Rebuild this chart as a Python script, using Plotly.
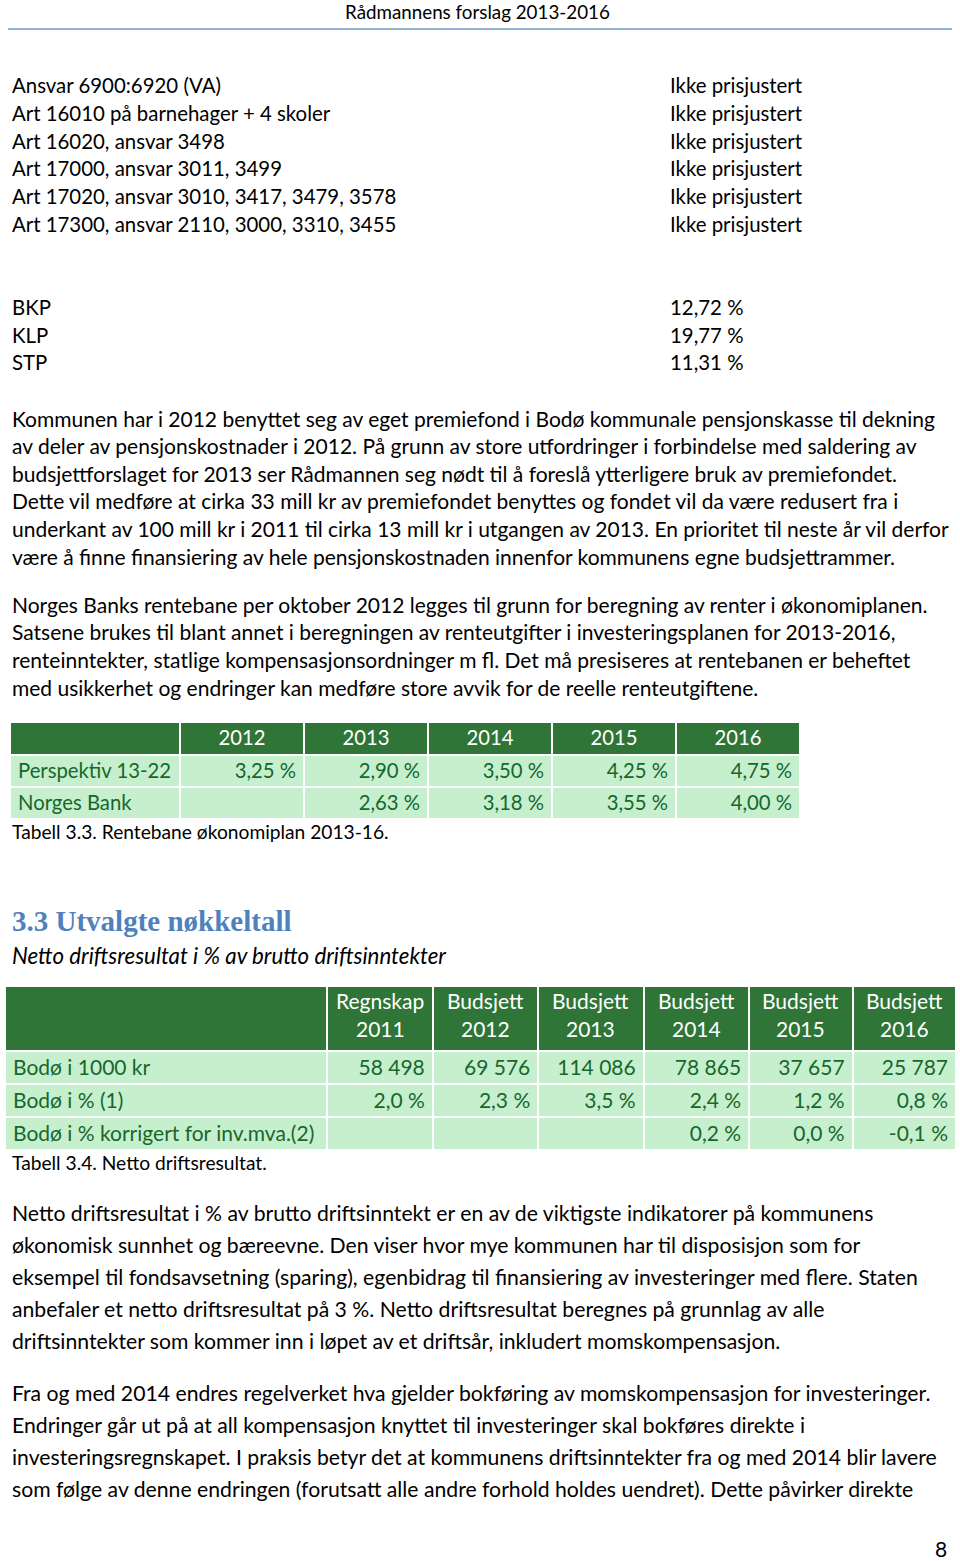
import plotly.graph_objects as go

W, H = 960, 1561
FONT = "Lato"
TXT = "#000000"

header_title = "Rådmannens forslag 2013-2016"

ansvar_labels = [
    "Ansvar 6900:6920 (VA)",
    "Art 16010 på barnehager + 4 skoler",
    "Art 16020, ansvar 3498",
    "Art 17000, ansvar 3011, 3499",
    "Art 17020, ansvar 3010, 3417, 3479, 3578",
    "Art 17300, ansvar 2110, 3000, 3310, 3455",
]
ansvar_values = ["Ikke prisjustert"] * 6

pension_labels = ["BKP", "KLP", "STP"]
pension_values = ["12,72 %", "19,77 %", "11,31 %"]

para1 = [
    "Kommunen har i 2012 benyttet seg av eget premiefond i Bodø kommunale pensjonskasse til dekning",
    "av deler av pensjonskostnader i 2012. På grunn av store utfordringer i forbindelse med saldering av",
    "budsjettforslaget for 2013 ser Rådmannen seg nødt til å foreslå ytterligere bruk av premiefondet.",
    "Dette vil medføre at cirka 33 mill kr av premiefondet benyttes og fondet vil da være redusert fra i",
    "underkant av 100 mill kr i 2011 til cirka 13 mill kr i utgangen av 2013. En prioritet til neste år vil derfor",
    "være å finne finansiering av hele pensjonskostnaden innenfor kommunens egne budsjettrammer.",
]
para2 = [
    "Norges Banks rentebane per oktober 2012 legges til grunn for beregning av renter i økonomiplanen.",
    "Satsene brukes til blant annet i beregningen av renteutgifter i investeringsplanen for 2013-2016,",
    "renteinntekter, statlige kompensasjonsordninger m fl. Det må presiseres at rentebanen er beheftet",
    "med usikkerhet og endringer kan medføre store avvik for de reelle renteutgiftene.",
]

# Table 3.3
t1_years = ["2012", "2013", "2014", "2015", "2016"]
t1_rows = ["Perspektiv 13-22", "Norges Bank"]
t1_perspektiv = ["3,25 %", "2,90 %", "3,50 %", "4,25 %", "4,75 %"]
t1_norgesbank = ["", "2,63 %", "3,18 %", "3,55 %", "4,00 %"]
t1_caption = "Tabell 3.3. Rentebane økonomiplan 2013-16."

heading = "3.3 Utvalgte nøkkeltall"
subheading = "Netto driftsresultat i % av brutto driftsinntekter"

# Table 3.4
t2_col_top = ["Regnskap", "Budsjett", "Budsjett", "Budsjett", "Budsjett", "Budsjett"]
t2_col_year = ["2011", "2012", "2013", "2014", "2015", "2016"]
t2_rows = ["Bodø i 1000 kr", "Bodø i % (1)", "Bodø i % korrigert for inv.mva.(2)"]
t2_kr = ["58 498", "69 576", "114 086", "78 865", "37 657", "25 787"]
t2_pct = ["2,0 %", "2,3 %", "3,5 %", "2,4 %", "1,2 %", "0,8 %"]
t2_pct_korr = ["", "", "", "0,2 %", "0,0 %", "-0,1 %"]
t2_caption = "Tabell 3.4. Netto driftsresultat."

para3 = [
    "Netto driftsresultat i % av brutto driftsinntekt er en av de viktigste indikatorer på kommunens",
    "økonomisk sunnhet og bæreevne. Den viser hvor mye kommunen har til disposisjon som for",
    "eksempel til fondsavsetning (sparing), egenbidrag til finansiering av investeringer med flere. Staten",
    "anbefaler et netto driftsresultat på 3 %. Netto driftsresultat beregnes på grunnlag av alle",
    "driftsinntekter som kommer inn i løpet av et driftsår, inkludert momskompensasjon.",
]
para4 = [
    "Fra og med 2014 endres regelverket hva gjelder bokføring av momskompensasjon for investeringer.",
    "Endringer går ut på at all kompensasjon knyttet til investeringer skal bokføres direkte i",
    "investeringsregnskapet. I praksis betyr det at kommunens driftsinntekter fra og med 2014 blir lavere",
    "som følge av denne endringen (forutsatt alle andre forhold holdes uendret). Dette påvirker direkte",
]
page_number = "8"


def px(x):
    return x / W


def py(y):
    return 1 - y / H


def nowrap(items):
    # non-breaking spaces keep the table from wrapping the cell text
    return [s.replace(" ", "\u00a0") for s in items]


annotations = []


def add_text(text, x, y, size=21, color=TXT, anchor="left", family=FONT):
    annotations.append(dict(
        text=text, x=px(x), y=py(y), xref="paper", yref="paper",
        xanchor=anchor, yanchor="middle", showarrow=False,
        font=dict(family=family, size=size, color=color)))


add_text(header_title, 612, 12, size=18.8, anchor="right")

for i, (lab, val) in enumerate(zip(ansvar_labels, ansvar_values)):
    y = 85 + i * 27.8
    add_text(lab, 10, y, size=20.4)
    add_text(val, 668, y, size=20.4)

for i, (lab, val) in enumerate(zip(pension_labels, pension_values)):
    y = 307 + i * 27.5
    add_text(lab, 10, y, size=20.4)
    add_text(val, 668, y, size=20.4)

for i, line in enumerate(para1):
    add_text(line, 10, 418 + i * 27.6, size=21)
for i, line in enumerate(para2):
    add_text(line, 10, 604 + i * 27.9, size=21)

add_text(t1_caption, 10, 832, size=19.2)
add_text("<b>" + heading + "</b>", 10, 921, size=29, color="#4f81bd", family="Liberation Serif")
add_text("<i>" + subheading + "</i>", 10, 955, size=22.3)
add_text(t2_caption, 10, 1162, size=19.2)

for i, line in enumerate(para3):
    add_text(line, 10, 1213 + i * 32, size=21.2)
for i, line in enumerate(para4):
    add_text(line, 10, 1393 + i * 32, size=21.2)

add_text(page_number, 941, 1548, size=21, anchor="center")

HDR_FILL = "#2e7537"
CELL_FILL = "#c6efce"
CELL_TXT = "#17672a"

fig = go.Figure()

# Table 3.3
fig.add_trace(go.Table(
    domain=dict(x=[px(10), px(800)], y=[py(822), py(722)]),
    columnwidth=[170] + [124] * 5,
    header=dict(
        values=[""] + t1_years,
        fill_color=HDR_FILL, line=dict(color="white", width=2),
        font=dict(family=FONT, size=20.3, color="white"),
        align="center", height=33,
    ),
    cells=dict(
        values=[nowrap(t1_rows)] + [nowrap([a, b]) for a, b in zip(t1_perspektiv, t1_norgesbank)],
        fill_color=CELL_FILL, line=dict(color="white", width=2),
        font=dict(family=FONT, size=20.3, color=CELL_TXT),
        align=["left"] + ["right"] * 5, height=32,
    ),
))

# Table 3.4 (header labels drawn as centred annotations over the header row)
t2_x0, t2_x1 = 5, 956
t2_widths = [321] + [105] * 4 + [103] * 2
fig.add_trace(go.Table(
    domain=dict(x=[px(t2_x0), px(t2_x1)], y=[py(1154), py(986)]),
    columnwidth=t2_widths,
    header=dict(
        values=[""] * 7,
        fill_color=HDR_FILL, line=dict(color="white", width=2),
        font=dict(family=FONT, size=21, color="white"),
        align="center", height=65,
    ),
    cells=dict(
        values=[nowrap(t2_rows)] + [nowrap([a, b, c]) for a, b, c in zip(t2_kr, t2_pct, t2_pct_korr)],
        fill_color=CELL_FILL, line=dict(color="white", width=2),
        font=dict(family=FONT, size=21, color=CELL_TXT),
        align=["left"] + ["right"] * 6, height=33,
    ),
))

scale = (t2_x1 - t2_x0) / sum(t2_widths)
edge = t2_x0 + t2_widths[0] * scale
for w, top, yr in zip(t2_widths[1:], t2_col_top, t2_col_year):
    cx = edge + w * scale / 2
    add_text(top, cx, 1000, size=21, color="white", anchor="center")
    add_text(yr, cx, 1028, size=21, color="white", anchor="center")
    edge += w * scale

fig.update_layout(
    width=W, height=H,
    margin=dict(l=0, r=0, t=0, b=0),
    paper_bgcolor="white", plot_bgcolor="white",
    showlegend=False,
    annotations=annotations,
    shapes=[dict(type="line", xref="paper", yref="paper",
                 x0=px(8), x1=px(952), y0=py(29), y1=py(29),
                 line=dict(color="#95b3d7", width=2))],
    xaxis=dict(visible=False), yaxis=dict(visible=False),
)

fig.write_html("out.html", config={"displayModeBar": False},
               post_script="document.body.style.margin='0';")
